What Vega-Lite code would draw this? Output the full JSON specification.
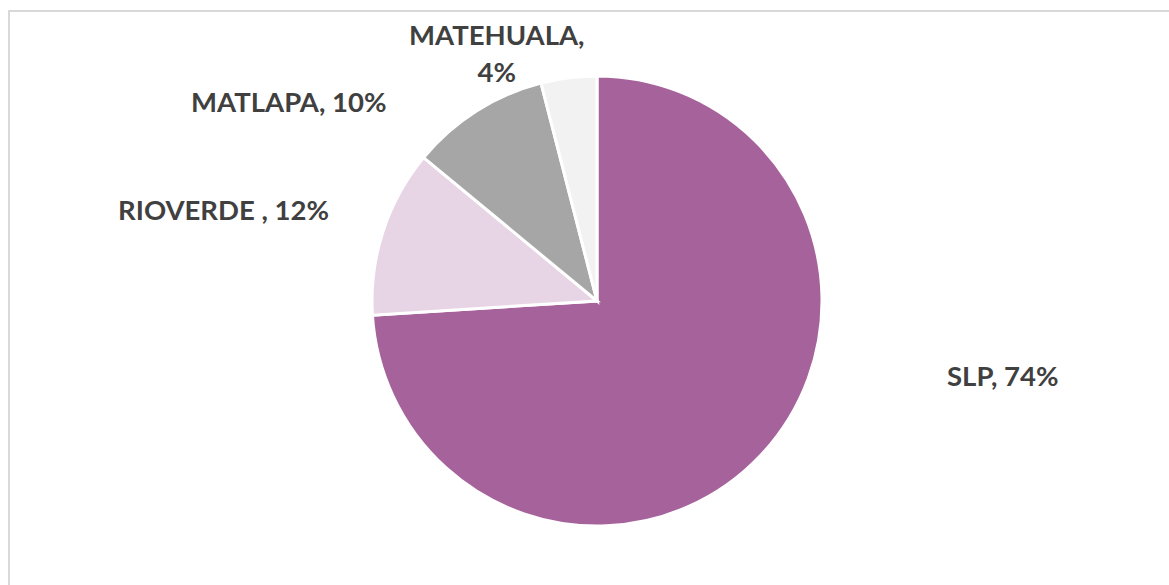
{
  "$schema": "https://vega.github.io/schema/vega-lite/v6.json",
  "width": 1176,
  "height": 580,
  "autosize": "none",
  "padding": {"left": 9, "top": 11, "right": -16, "bottom": -6},
  "background": "white",
  "view": {"stroke": "#D9D9D9", "strokeWidth": 2},
  "data": {
    "values": [
      {"name": "SLP", "pct": 74, "order": 1, "label": "SLP, 74%"},
      {"name": "RIOVERDE", "pct": 12, "order": 2, "label": "RIOVERDE , 12%"},
      {"name": "MATLAPA", "pct": 10, "order": 3, "label": "MATLAPA, 10%"},
      {"name": "MATEHUALA", "pct": 4, "order": 4, "label": "MATEHUALA,\n4%"}
    ]
  },
  "transform": [
    {"stack": "pct", "groupby": [], "as": ["s0", "s1"], "sort": [{"field": "order", "order": "ascending"}]},
    {"calculate": "(datum.s0 + datum.s1) / 2", "as": "mid"}
  ],
  "layer": [
    {
      "mark": {"type": "arc", "outerRadius": 225, "stroke": "white", "strokeWidth": 3},
      "encoding": {
        "theta": {"field": "s0", "type": "quantitative", "scale": {"domain": [0, 100]}},
        "theta2": {"field": "s1"},
        "color": {
          "field": "name", "type": "nominal", "legend": null,
          "scale": {"domain": ["SLP", "RIOVERDE", "MATLAPA", "MATEHUALA"], "range": ["#A6639B", "#E7D5E6", "#A6A6A6", "#F2F2F2"]}
        }
      }
    },
    {
      "transform": [{"filter": "datum.name === 'SLP'"}],
      "mark": {"type": "text", "radius": 225, "align": "left", "baseline": "middle", "dx": 186, "dy": -77, "font": "Lato", "fontSize": 27.5, "fontWeight": "bold", "color": "#404040"},
      "encoding": {"theta": {"field": "mid", "type": "quantitative"}, "text": {"field": "label"}}
    },
    {
      "transform": [{"filter": "datum.name === 'RIOVERDE'"}],
      "mark": {"type": "text", "radius": 225, "align": "right", "baseline": "middle", "dx": -54, "dy": -19, "font": "Lato", "fontSize": 27.5, "fontWeight": "bold", "color": "#404040"},
      "encoding": {"theta": {"field": "mid", "type": "quantitative"}, "text": {"field": "label"}}
    },
    {
      "transform": [{"filter": "datum.name === 'MATLAPA'"}],
      "mark": {"type": "text", "radius": 225, "align": "right", "baseline": "middle", "dx": -90, "dy": -7, "font": "Lato", "fontSize": 27.5, "fontWeight": "bold", "color": "#404040"},
      "encoding": {"theta": {"field": "mid", "type": "quantitative"}, "text": {"field": "label"}}
    },
    {
      "transform": [{"filter": "datum.name === 'MATEHUALA'"}],
      "mark": {"type": "text", "radius": 225, "align": "center", "baseline": "middle", "lineBreak": "\n", "lineHeight": 37, "dx": -72, "dy": -41, "font": "Lato", "fontSize": 27.5, "fontWeight": "bold", "color": "#404040"},
      "encoding": {"theta": {"field": "mid", "type": "quantitative"}, "text": {"field": "label"}}
    }
  ]
}
